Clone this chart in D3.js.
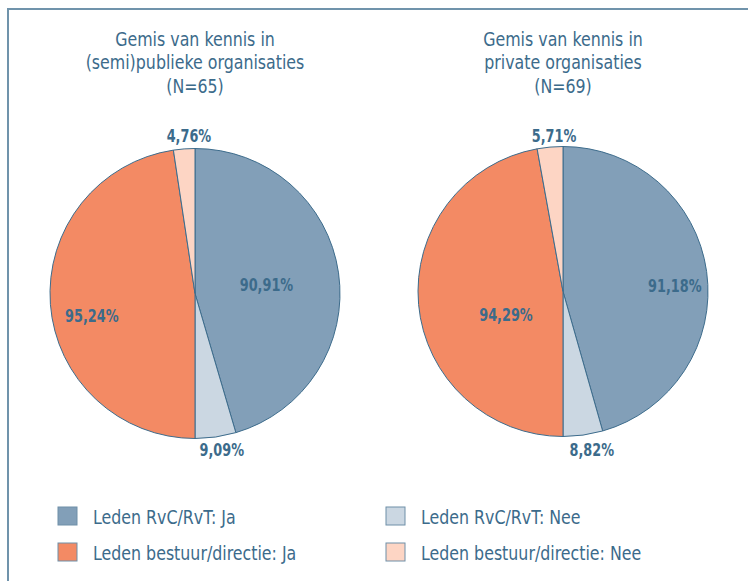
<!DOCTYPE html>
<html>
<head>
<meta charset="utf-8">
<script src="https://cdn.jsdelivr.net/npm/d3@7"></script>
<style>
  body { margin: 0; background: #fff; }
  svg text { font-family: "Liberation Sans Narrow", "Arial Narrow", "DejaVu Sans Condensed", sans-serif; font-stretch: condensed; }
</style>
</head>
<body>
<svg id="chart" width="748" height="581"></svg>
<script>
// data
const groups = ['(semi)publiek', 'privaat'];
const titles = [
  ['Gemis van kennis in', '(semi)publieke organisaties', '(N=65)'],
  ['Gemis van kennis in', 'private organisaties', '(N=69)']
];
const rvcJa = [90.91, 91.18];
const rvcNee = [9.09, 8.82];
const bestuurJa = [95.24, 94.29];
const bestuurNee = [4.76, 5.71];
const legendLabels = ['Leden RvC/RvT: Ja', 'Leden RvC/RvT: Nee', 'Leden bestuur/directie: Ja', 'Leden bestuur/directie: Nee'];

// kleuren
const colors = ['#829fb8', '#cbd7e2', '#f38a64', '#fdd5c4'];
const textColor = '#3c6b8b';
const strokeColor = '#3d6c8c';

// layout per taart
const pies = [{ cx: 195, cy: 293.5, r: 145 }, { cx: 563, cy: 291.5, r: 145 }];
// label plaats: [hoek in graden, straal] per segment (volgorde rvcJa, rvcNee, bestuurJa, bestuurNee)
const labelPos = [
  [[83, 72], [170.3, 159], [258, 105.5], [357.8, 157.5]],
  [[87, 112], [169.7, 161], [247.6, 61.7], [356.7, 156]]
];
const squeeze = 0.88; // lettertype smaller maken in de breedte (condensed)

const fmt = v => d3.format('.2f')(v).replace('.', ',') + '%';

const svg = d3.select('#chart');

// kader
svg.append('path')
  .attr('d', 'M8,600 V9 H760')
  .attr('fill', 'none')
  .attr('stroke', '#7093ab')
  .attr('stroke-width', 2);

const arc = d3.arc().innerRadius(0);

groups.forEach((g, i) => {
  const p = pies[i];
  const right = d3.pie().sort(null).startAngle(0).endAngle(Math.PI)([rvcJa[i], rvcNee[i]]);
  const left = d3.pie().sort(null).startAngle(Math.PI).endAngle(2 * Math.PI)([bestuurJa[i], bestuurNee[i]]);
  const slices = right.concat(left);

  const gp = svg.append('g').attr('transform', `translate(${p.cx},${p.cy})`);

  gp.selectAll('path')
    .data(slices)
    .join('path')
    .attr('d', d => arc.outerRadius(p.r)(d))
    .attr('fill', (d, j) => colors[j])
    .attr('stroke', strokeColor)
    .attr('stroke-width', 1)
    .attr('stroke-linejoin', 'round');

  gp.selectAll('text')
    .data(slices)
    .join('text')
    .attr('transform', (d, j) => {
      const [a, r] = labelPos[i][j];
      const [x, y] = d3.pointRadial(a * Math.PI / 180, r);
      return `translate(${x},${y}) scale(0.84,1)`;
    })
    .attr('text-anchor', 'middle')
    .attr('dy', '0.36em')
    .attr('fill', textColor)
    .attr('font-weight', 'bold')
    .attr('font-size', 17)
    .text(d => d3.format('.2f')(d.data).replace('.', ',') + '%');

  // titel
  svg.append('text')
    .attr('transform', `translate(${p.cx},46) scale(${squeeze},1)`)
    .attr('text-anchor', 'middle')
    .attr('fill', textColor)
    .attr('font-size', 20)
    .selectAll('tspan')
    .data(titles[i])
    .join('tspan')
    .attr('x', 0)
    .attr('dy', (d, k) => k === 0 ? 0 : 23.5)
    .text(d => d);
});

// legenda
const legend = svg.append('g');
const items = legend.selectAll('g')
  .data(legendLabels)
  .join('g')
  .attr('transform', (d, k) => `translate(${k % 2 === 0 ? 58 : 386},${k < 2 ? 507 : 543})`);

items.append('rect')
  .attr('width', 19)
  .attr('height', 18)
  .attr('fill', (d, k) => colors[k])
  .attr('stroke', '#6f8fa8')
  .attr('stroke-width', 1);

items.append('text')
  .attr('transform', `translate(35,17) scale(${squeeze},1)`)
  .attr('fill', textColor)
  .attr('font-size', 20)
  .text(d => d);
</script>
</body>
</html>
